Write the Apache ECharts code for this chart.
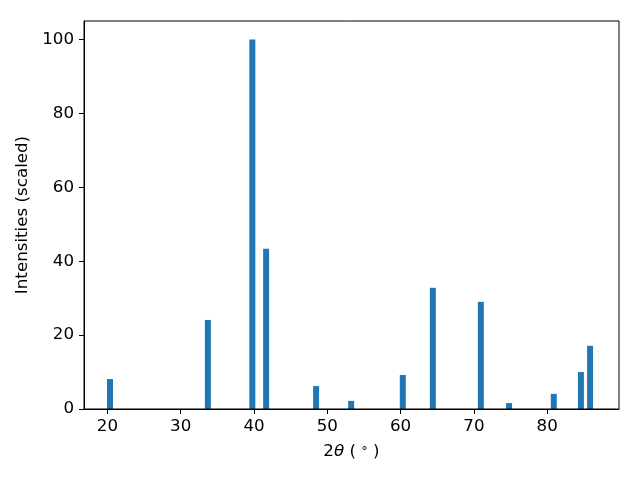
<!DOCTYPE html>
<html>
<head>
<meta charset="utf-8">
<script src="https://cdn.jsdelivr.net/npm/echarts@6/dist/echarts.min.js"></script>
<style>html,body{margin:0;padding:0;background:#fff}#c{width:640px;height:480px}</style>
</head>
<body>
<div id="c"></div>
<script>
const twoTheta = [20.35, 33.7, 39.77, 41.65, 48.47, 53.25, 60.3, 64.4, 70.95, 74.8, 80.9, 84.6, 85.85];
const intensities = [8.1, 24.1, 100, 43.4, 6.2, 2.2, 9.2, 32.8, 29.0, 1.6, 4.1, 10.0, 17.1];
const xTicks = [20, 30, 40, 50, 60, 70, 80];
const yTicks = [0, 20, 40, 60, 80, 100];

const font = 'DejaVu Sans';
const fs = 16.7;
const chart = echarts.init(document.getElementById('c'), null, {renderer: 'canvas'});
chart.setOption({
  animation: false,
  grid: {left: 84, right: 21, top: 21, bottom: 71, containLabel: false},
  xAxis: {
    type: 'value', min: 16.8, max: 89.8,
    axisLine: {show: true, onZero: false, lineStyle: {color: '#000', width: 1}},
    axisTick: {show: true, length: 5, inside: false, lineStyle: {color: '#000'}, customValues: xTicks},
    axisLabel: {color: '#000', fontFamily: font, fontSize: fs, margin: 9, customValues: xTicks},
    splitLine: {show: false},
    name: '{a|2}{b|θ}{a| ( }{c|°}{a| )}',
    nameLocation: 'middle', nameGap: 34,
    nameTextStyle: {
      rich: {
        a: {fontFamily: font, fontSize: fs, color: '#000'},
        b: {fontFamily: font, fontSize: fs, fontStyle: 'italic', color: '#000'},
        c: {fontFamily: font, fontSize: 13, color: '#000'}
      }
    }
  },
  yAxis: {
    type: 'value', min: 0, max: 105,
    axisLine: {show: true, lineStyle: {color: '#000', width: 1}},
    axisTick: {show: true, length: 5, inside: false, lineStyle: {color: '#000'}, customValues: yTicks},
    axisLabel: {color: '#000', fontFamily: font, fontSize: fs, margin: 10, customValues: yTicks},
    splitLine: {show: false},
    name: 'Intensities (scaled)',
    nameLocation: 'middle', nameGap: 49,
    nameTextStyle: {fontFamily: font, fontSize: fs, color: '#000'}
  },
  series: [{
    type: 'bar',
    data: twoTheta.map((x, i) => [x, intensities[i]]),
    barWidth: 6,
    itemStyle: {color: '#1f77b4'},
    silent: true
  }],
  graphic: [{
    type: 'rect', shape: {x: 84, y: 21, width: 535, height: 388},
    style: {fill: 'none', stroke: '#000', lineWidth: 1}, silent: true, z: 100
  }]
});
</script>
</body>
</html>
